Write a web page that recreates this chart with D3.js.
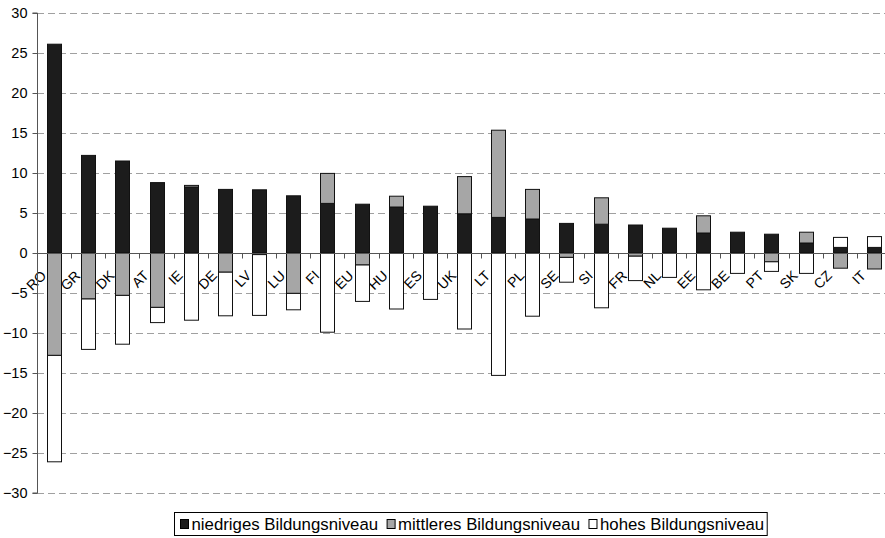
<!DOCTYPE html>
<html>
<head>
<meta charset="utf-8">
<script src="https://cdn.jsdelivr.net/npm/d3@7"></script>
<style>
  body { margin: 0; background: #fff; }
  svg { font-family: "Liberation Sans", Arial, sans-serif; }
</style>
</head>
<body>
<div id="chart"></div>
<script>
const countries = ["RO", "GR", "DK", "AT", "IE", "DE", "LV", "LU", "FI", "EU", "HU", "ES", "UK",
    "LT", "PL", "SE", "SI", "FR", "NL", "EE", "BE", "PT", "SK", "CZ", "IT"];
const niedrig = [26.1, 12.2, 11.5, 8.8, 8.25, 7.95, 7.9, 7.15, 6.2, 6.1, 5.75, 5.85, 4.9,
    4.45, 4.25, 3.7, 3.6, 3.5, 3.1, 2.5, 2.6, 2.35, 1.25, 0.7, 0.7];
const mittel = [-12.8, -5.75, -5.3, -6.8, 0.2, -2.4, -0.2, -5.05, 3.75, -1.5, 1.35, 0, 4.65,
    10.9, 3.7, -0.55, 3.3, -0.4, 0, 2.15, 0, -1.1, 1.35, -1.9, -2.0];
const hoch = [-13.3, -6.3, -6.1, -1.9, -8.4, -5.45, -7.6, -2.05, -9.9, -4.55, -7.0, -5.8, -9.5,
    -15.3, -7.9, -3.1, -6.85, -3.05, -3.05, -4.6, -2.55, -1.2, -2.55, 1.25, 1.35];
const seriesNames = ["niedriges Bildungsniveau", "mittleres Bildungsniveau", "hohes Bildungsniveau"];
const yTicks = [-30, -25, -20, -15, -10, -5, 0, 5, 10, 15, 20, 25, 30];

const width = 885, height = 538;
const keys = ["niedrig", "mittel", "hoch"];
const colors = { niedrig: "#1c1c1c", mittel: "#a6a6a6", hoch: "#ffffff" };

const rows = countries.map((c, i) => ({ country: c, niedrig: niedrig[i], mittel: mittel[i], hoch: hoch[i] }));
const stacked = d3.stack().keys(keys).offset(d3.stackOffsetDiverging)(rows);

const x = d3.scaleBand().domain(countries).range([37, 891]).paddingInner(0.59).paddingOuter(0.295);
const y = d3.scaleLinear().domain([-30, 30]).range([493, 13]);
const band = (891 - 37) / countries.length;

const svg = d3.select("#chart").append("svg")
    .attr("width", width)
    .attr("height", height);

// gridlines
svg.append("g")
    .selectAll("line")
    .data(yTicks.filter(t => t !== 0))
    .enter().append("line")
    .attr("x1", 37).attr("x2", width)
    .attr("y1", d => Math.round(y(d)) + 0.5).attr("y2", d => Math.round(y(d)) + 0.5)
    .attr("stroke", "#a0a0a0")
    .attr("stroke-width", 1)
    .attr("stroke-dasharray", "7,4");

const zero = Math.round(y(0)) + 0.5;

// category labels (under the bars, which cover them partly)
svg.append("g")
    .selectAll("text")
    .data(countries)
    .enter().append("text")
    .attr("x", 0).attr("y", 0)
    .style("transform", d => `translate(${x(d) + x.bandwidth() / 2 - 7}px,${zero + 23}px) rotate(-45deg)`)
    .attr("text-anchor", "end")
    .attr("font-size", 14)
    .text(d => d);

// bars
svg.append("g")
    .selectAll("g")
    .data(stacked)
    .enter().append("g")
    .attr("fill", d => colors[d.key])
    .selectAll("rect")
    .data(d => d.filter(p => Math.abs(p[1] - p[0]) > 0.001))
    .enter().append("rect")
    .attr("x", d => Math.round(x(d.data.country)) + 0.5)
    .attr("width", Math.round(x.bandwidth()))
    .attr("y", d => y(Math.max(d[0], d[1])))
    .attr("height", d => Math.abs(y(d[0]) - y(d[1])))
    .attr("stroke", "#111")
    .attr("stroke-width", 1);

// y axis
const yAxis = svg.append("g")
    .attr("transform", "translate(37.5,0)")
    .call(d3.axisLeft(y).tickValues(yTicks).tickSize(5).tickPadding(5));
yAxis.select(".domain").attr("stroke", "#555").attr("d", `M-5,${y(30)}H0V${y(-30)}H-5`);
yAxis.selectAll(".tick line").attr("stroke", "#555");
yAxis.selectAll(".tick text")
    .attr("font-size", 14.5)
    .attr("font-family", "Liberation Sans, Arial, sans-serif")
    .attr("fill", "#000");

// zero line with category ticks
svg.append("line")
    .attr("x1", 37).attr("x2", width)
    .attr("y1", zero).attr("y2", zero)
    .attr("stroke", "#555");
svg.append("g")
    .selectAll("line")
    .data(d3.range(1, countries.length + 1))
    .enter().append("line")
    .attr("x1", i => Math.round(37 + i * band) + 0.5)
    .attr("x2", i => Math.round(37 + i * band) + 0.5)
    .attr("y1", zero).attr("y2", zero + 5)
    .attr("stroke", "#555");

// legend
const legend = svg.append("g").attr("transform", "translate(174.5,512.5)");
const legendBox = legend.append("rect")
    .attr("height", 23)
    .attr("fill", "#fff").attr("stroke", "#000");
let lx = 6;
seriesNames.forEach((name, i) => {
    legend.append("rect")
        .attr("x", lx).attr("y", 7)
        .attr("width", 8).attr("height", 9)
        .attr("fill", colors[keys[i]])
        .attr("stroke", "#000");
    const t = legend.append("text")
        .attr("x", lx + 11).attr("y", 17.5)
        .attr("font-size", 16.8)
        .text(name);
    lx += 11 + t.node().getComputedTextLength() + 9;
});
legendBox.attr("width", lx - 6);
</script>
</body>
</html>
